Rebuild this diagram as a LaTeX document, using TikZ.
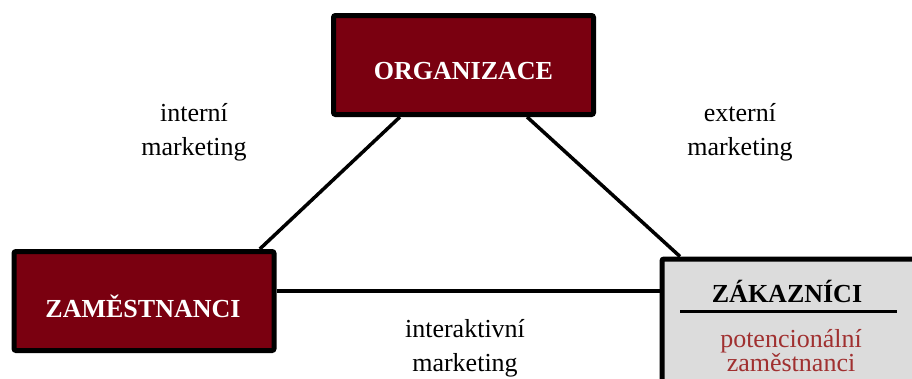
\documentclass[tikz,border=0pt]{standalone}
\usepackage{fontspec}
\setmainfont{Liberation Serif}
\usetikzlibrary{calc}
\definecolor{boxred}{RGB}{122,0,16}
\definecolor{boxgrey}{RGB}{220,220,220}
\definecolor{subred}{RGB}{160,48,48}
\begin{document}
\begin{tikzpicture}[x=1pt,y=-1pt,
  redbox/.style={draw=black,line width=5pt,fill=boxred,rounded corners=2pt,
    minimum width=260pt,minimum height=99pt,inner sep=0pt},
  greybox/.style={draw=black,line width=5pt,fill=boxgrey,rounded corners=2pt,
    minimum width=270pt,minimum height=160pt,inner sep=0pt,anchor=north west},
  boxtitle/.style={font=\fontsize{26}{26}\selectfont\bfseries,anchor=base,inner sep=0pt},
  lbl/.style={font=\fontsize{26}{34}\selectfont,align=center,anchor=base,inner sep=0pt},
  link/.style={line width=3.5pt}]
\useasboundingbox (0,0) rectangle (912,378);

% boxes
\node[redbox] (org) at (463.5,65) {};
\node[redbox] (zam) at (144,301) {};
\node[greybox] (zak) at (659.5,256.5) {};

% box titles
\node[boxtitle,text=white] (orgt) at (463.5,79) {ORGANIZACE};
\node[boxtitle,text=white] (zamt) at (143,317) {ZAMĚSTNANCI};
\node[boxtitle,text=black] (zakt) at (787,302) {ZÁKAZNÍCI};
\coordinate (ulL) at (680,311);
\coordinate (ulR) at (897,311);
\draw[line width=3pt] (ulL) -- (ulR);
\node[lbl,text=subred] (zaks) at (791,347) {potencionální};
\node[lbl,text=subred] (zaks2) at (791,371) {zaměstnanci};

% connectors
\draw[link] ($(org.south west)!0.26!(org.south east)$) -- ($(zam.north west)!0.937!(zam.north east)$);
\draw[link] ($(org.south west)!0.74!(org.south east)$) -- ([xshift=20.5pt]zak.north west);
\draw[link] ([yshift=10pt]zam.east) -- ([yshift=10pt]zam.east -| zak.west);

% connector labels (base anchor sits on the last line)
\node[lbl] (lint) at (194,155) {interní\\marketing};
\node[lbl] (lext) at (740,155) {externí\\marketing};
\node[lbl] (lia) at (465,371) {interaktivní\\marketing};
\end{tikzpicture}
\end{document}
